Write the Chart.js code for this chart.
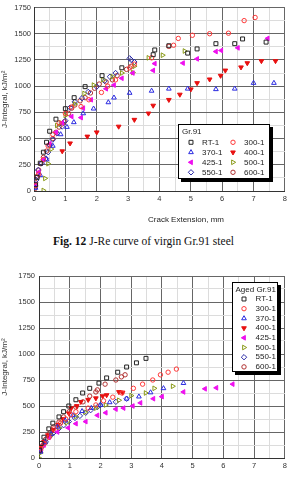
<!DOCTYPE html>
<html>
<head>
<meta charset="utf-8">
<script src="https://cdn.jsdelivr.net/npm/chart.js@4/dist/chart.umd.min.js"></script>
<style>
  html, body { margin: 0; padding: 0; background: #fff; width: 290px; height: 477px; overflow: hidden; }
  #virgin { position: absolute; left: 0; top: 0; }
  #aged { position: absolute; left: 0; top: 262px; }
  .caption { position: absolute; top: 235px; left: 0; width: 287px; text-align: center;
    font-family: "Liberation Serif", "Times New Roman", serif; font-size: 11.5px; color: #111; }
</style>
</head>
<body>
<canvas id="virgin" width="290" height="230"></canvas>
<div class="caption"><b>Fig. 12</b> J-Re curve of virgin Gr.91 steel</div>
<canvas id="aged" width="290" height="225"></canvas>
<script>
// ---- series (crack extension mm, J kJ/m2) ----
const seriesNames = ["RT-1", "300-1", "370-1", "400-1", "425-1", "500-1", "550-1", "600-1"];
const xTicks = [0, 1, 2, 3, 4, 5, 6, 7, 8];
const yTicks = [0, 250, 500, 750, 1000, 1250, 1500, 1750];

// virgin Gr.91
const vRT1 = [[0.05, 60], [0.1, 130], [0.2, 265], [0.3, 370], [0.4, 465], [0.5, 570], [0.7, 685], [1.0, 785], [1.28, 890], [1.63, 995], [2.17, 1100], [2.8, 1175], [3.8, 1300], [3.85, 1345], [4.3, 1385], [4.9, 1315], [5.2, 1355], [5.8, 1405], [6.4, 1405], [6.65, 1450], [7.4, 1420]];
const v300 = [[0.05, 50], [0.15, 160], [0.3, 300], [0.45, 430], [0.6, 540], [0.8, 650], [1.0, 740], [1.2, 800], [1.5, 805], [1.75, 870], [2.15, 940], [2.35, 1000], [2.6, 1060], [3.05, 1175], [3.2, 1210], [3.75, 1270], [4.3, 1380], [4.45, 1390], [4.6, 1455], [5.05, 1485], [5.6, 1500], [6.2, 1505], [6.7, 1625], [7.05, 1655]];
const v370 = [[0.05, 30], [0.2, 150], [0.4, 300], [0.6, 430], [0.85, 540], [1.05, 610], [1.27, 655], [1.57, 740], [1.9, 785], [2.37, 845], [2.55, 890], [3.05, 935], [3.75, 955], [4.3, 975], [4.9, 975], [5.8, 970], [6.4, 975], [7.0, 1030], [7.65, 1030]];
const v400 = [[0.9, 380], [1.15, 455], [1.7, 520], [2.0, 560], [2.7, 615], [3.2, 680], [3.65, 740], [3.8, 815], [4.3, 870], [4.65, 920], [5.0, 970], [5.2, 1030], [5.6, 1065], [5.95, 1100], [6.1, 1150], [6.6, 1180], [6.8, 1220], [7.25, 1240], [7.7, 1240]];
const v425 = [[0.05, 60], [0.15, 180], [0.3, 300], [0.5, 450], [0.7, 560], [0.9, 650], [1.2, 710], [1.5, 700], [1.57, 790], [1.82, 870], [2.3, 975], [2.55, 1010], [2.8, 1075], [3.15, 1125], [3.8, 1150], [3.85, 1215], [4.75, 1220], [5.2, 1260], [5.8, 1330], [5.97, 1340], [6.5, 1365], [7.45, 1455]];
const v500 = [[0.3, 5], [0.35, 120], [0.45, 260], [0.55, 400], [0.73, 625], [0.85, 650], [1.0, 720], [1.3, 830], [1.6, 930], [1.9, 1010], [2.2, 1060], [2.5, 1090], [2.8, 1125], [3.15, 1130], [3.2, 1190], [3.65, 1270], [4.1, 1295], [4.8, 1335]];
const v550 = [[0.03, 40], [0.07, 105], [0.13, 200], [0.25, 265], [0.38, 310], [0.45, 370], [0.5, 435], [0.6, 490], [0.73, 550], [0.9, 615], [1.0, 670], [1.15, 795], [1.3, 850], [1.53, 885], [1.73, 945], [2.0, 995], [2.25, 1050], [2.42, 1090], [2.6, 1125], [3.05, 1265], [3.1, 1250], [3.2, 1230]];
const v600 = [[0.02, 20], [0.05, 80], [0.1, 140], [0.15, 200], [0.22, 260], [0.3, 320], [0.4, 380], [0.5, 440], [0.6, 500], [0.7, 560], [0.8, 610], [0.9, 640], [0.97, 660], [1.1, 740], [1.2, 790], [1.3, 820], [1.47, 860], [1.63, 890], [1.8, 935], [1.93, 980], [2.08, 1020], [2.3, 1040], [2.5, 1060], [2.65, 1100], [2.95, 1160], [3.1, 1190]];

// aged Gr.91
const aRT1 = [[0.02, 75], [0.07, 140], [0.16, 200], [0.32, 280], [0.45, 335], [0.65, 395], [0.8, 445], [0.97, 500], [1.2, 560], [1.42, 625], [1.65, 670], [1.95, 720], [2.2, 770], [2.56, 825], [2.85, 875], [3.17, 915], [3.48, 958]];
const a300 = [[0.07, 95], [0.17, 140], [0.33, 200], [0.48, 280], [0.7, 335], [0.87, 375], [1.03, 415], [1.2, 445], [1.6, 480], [1.85, 510], [2.1, 550], [2.4, 585], [2.7, 625], [3.07, 670], [3.37, 710], [3.7, 750], [3.95, 800], [4.2, 825], [4.47, 855]];
const a370 = [[0.05, 60], [0.2, 150], [0.4, 230], [0.6, 300], [0.85, 360], [1.1, 410], [1.4, 450], [1.7, 480], [2.0, 510], [2.3, 535], [2.85, 570], [3.25, 590], [3.63, 630], [4.05, 670], [4.7, 720]];
const a400 = [[0.06, 110], [0.16, 155], [0.29, 220], [0.45, 270], [0.62, 320], [0.78, 375], [0.97, 430], [1.05, 480], [1.23, 500], [1.36, 540], [1.6, 560], [1.85, 575], [2.07, 595], [2.2, 605], [2.6, 635], [2.72, 630]];
const a425 = [[0.06, 75], [0.16, 125], [0.32, 200], [0.6, 250], [0.95, 290], [1.2, 330], [1.52, 350], [1.9, 410], [2.17, 435], [2.5, 470], [2.75, 480], [3.05, 500], [3.3, 530], [3.72, 570], [4.0, 590], [4.7, 635], [5.4, 665], [5.77, 675], [6.3, 710]];
const a500 = [[0.0, 0], [0.05, 50], [0.2, 140], [0.4, 220], [0.65, 290], [0.9, 340], [1.2, 400], [1.5, 440], [1.85, 480], [2.17, 510], [2.6, 555], [3.0, 600], [3.47, 625], [3.75, 670], [4.35, 690]];
const a550 = [[0.02, 60], [0.1, 110], [0.22, 155], [0.35, 205], [0.48, 245], [0.65, 285], [0.8, 315], [0.97, 350], [1.17, 385], [1.33, 405], [1.52, 435], [1.68, 460], [1.9, 490], [2.0, 510], [2.5, 540], [2.85, 570]];
const a600 = [[0.05, 75], [0.13, 125], [0.22, 180], [0.35, 240], [0.48, 300], [0.65, 345], [0.8, 395], [0.98, 445], [1.2, 490], [1.43, 540], [1.65, 595], [1.85, 635], [1.9, 655], [2.15, 710], [2.5, 750], [2.68, 780], [2.8, 800]];

// ---- marker styles per series ----
const markerStyles = [
  { pointStyle: "rect", rotation: 0, color: "#222222", fill: false, r: 2.8 },
  { pointStyle: "circle", rotation: 0, color: "#ff3838", fill: false, r: 2.2 },
  { pointStyle: "triangle", rotation: 0, color: "#2a2ae0", fill: false, r: 2.7 },
  { pointStyle: "triangle", rotation: 180, color: "#e81010", fill: true, r: 2.7 },
  { pointStyle: "triangle", rotation: -90, color: "#ee10ee", fill: true, r: 2.7 },
  { pointStyle: "triangle", rotation: 90, color: "#8a9a18", fill: false, r: 2.7 },
  { pointStyle: "rectRot", rotation: 0, color: "#2c2ca8", fill: false, r: 2.7 },
  { pointStyle: "circle", rotation: 0, color: "#b03030", fill: false, r: 2.2 }
];

const FONT = "'Liberation Sans', Arial, sans-serif";

function makeDatasets(all) {
  return all.map((pts, i) => {
    const m = markerStyles[i];
    return {
      label: seriesNames[i],
      data: pts.map((p) => ({ x: p[0], y: p[1] })),
      pointStyle: m.pointStyle,
      rotation: m.rotation,
      pointRadius: m.r,
      pointBorderWidth: 1,
      borderColor: m.color,
      backgroundColor: m.fill ? m.color : "rgba(0,0,0,0)",
      showLine: false
    };
  });
}

function drawMarker(ctx, m, x, y) {
  ctx.save();
  ctx.translate(x, y);
  ctx.rotate(m.rotation * Math.PI / 180);
  ctx.strokeStyle = m.color;
  ctx.fillStyle = m.fill ? m.color : "rgba(0,0,0,0)";
  ctx.lineWidth = 1;
  const r = m.r;
  ctx.beginPath();
  if (m.pointStyle === "circle") {
    ctx.arc(0, 0, r, 0, Math.PI * 2);
  } else if (m.pointStyle === "rect") {
    const s = r * Math.SQRT1_2;
    ctx.rect(-s, -s, 2 * s, 2 * s);
  } else if (m.pointStyle === "rectRot") {
    ctx.moveTo(0, -r); ctx.lineTo(r, 0); ctx.lineTo(0, r); ctx.lineTo(-r, 0); ctx.closePath();
  } else {
    ctx.moveTo(0, -r); ctx.lineTo(r * 0.866, r * 0.5); ctx.lineTo(-r * 0.866, r * 0.5); ctx.closePath();
  }
  if (m.fill) ctx.fill();
  ctx.stroke();
  ctx.restore();
}

// boxed legend with drop shadow, plus the x-axis title
function boxLegend(cfg) {
  return {
    id: "boxLegend",
    afterDatasetsDraw(chart) {
      const ctx = chart.ctx;
      const b = cfg.box;
      ctx.save();
      ctx.fillStyle = "#000";
      ctx.fillRect(b.x + 3, b.y + 3, b.w, b.h);
      ctx.fillStyle = "#fff";
      ctx.fillRect(b.x, b.y, b.w, b.h);
      ctx.strokeStyle = "#000";
      ctx.lineWidth = 1;
      ctx.strokeRect(b.x + 0.5, b.y + 0.5, b.w - 1, b.h - 1);
      ctx.fillStyle = "#222";
      ctx.font = "8px " + FONT;
      ctx.textBaseline = "middle";
      ctx.textAlign = "left";
      ctx.fillText(cfg.title, cfg.titleX, cfg.titleY);
      seriesNames.forEach((name, i) => {
        const pos = cfg.pos(i);
        drawMarker(ctx, markerStyles[i], pos.mx, pos.y);
        ctx.fillStyle = "#222";
        ctx.fillText(name, pos.tx, pos.y);
      });
      ctx.fillText(cfg.xTitle, cfg.xTitleX, cfg.xTitleY);
      ctx.restore();
    }
  };
}

function gridColor(step) {
  return (c) => {
    const v = c.tick ? c.tick.value : 0;
    return Math.abs(v / step - Math.round(v / step)) < 1e-6 ? "#666666" : "#dcdcdc";
  };
}

function makeChart(id, data, opts) {
  return new Chart(document.getElementById(id), {
    type: "scatter",
    data: { datasets: makeDatasets(data) },
    options: {
      responsive: false,
      animation: false,
      devicePixelRatio: 1,
      layout: { padding: opts.padding },
      plugins: { legend: { display: false }, tooltip: { enabled: false } },
      scales: {
        x: {
          min: 0, max: 8,
          afterFit: (s) => { s.height = opts.xHeight; },
          ticks: {
            stepSize: 0.5, autoSkip: false, maxRotation: 0, padding: 3,
            color: "#333", font: { size: 7.5, family: FONT },
            callback: (v) => (xTicks.includes(v) ? String(v) : "")
          },
          grid: { color: gridColor(1), drawTicks: false },
          border: { color: "#333" }
        },
        y: {
          min: 0, max: 1750,
          afterFit: (s) => { s.width = opts.yWidth; },
          ticks: {
            stepSize: 125, autoSkip: false, padding: opts.yPad,
            color: "#333", font: { size: 7.5, family: FONT },
            callback: (v) => (yTicks.includes(v) ? String(v) : "")
          },
          grid: { color: gridColor(250), drawTicks: false },
          border: { color: "#333" },
          title: {
            display: true, text: "J-Integral, kJ/m\u00b2", color: "#333",
            font: { size: 8, family: FONT }, padding: { top: 0, bottom: 0 }
          }
        }
      }
    },
    plugins: [boxLegend(opts.legend)]
  });
}

makeChart("virgin", [vRT1, v300, v370, v400, v425, v500, v550, v600], {
  padding: { left: 0, right: 5, top: 6, bottom: 0 },
  xHeight: 39, yWidth: 34, yPad: 3,
  legend: {
    box: { x: 178, y: 124, w: 92, h: 55 },
    title: "Gr.91", titleX: 182, titleY: 132,
    pos: (i) => ({
      mx: i % 2 === 0 ? 191 : 233,
      tx: i % 2 === 0 ? 202 : 244,
      y: 142.3 + Math.floor(i / 2) * 10
    }),
    xTitle: "Crack Extension, mm", xTitleX: 148, xTitleY: 220
  }
});

makeChart("aged", [aRT1, a300, a370, a400, a425, a500, a550, a600], {
  padding: { left: 0, right: 4, top: 14, bottom: 0 },
  xHeight: 29, yWidth: 39, yPad: 4,
  legend: {
    box: { x: 232, y: 20, w: 46, h: 90 },
    title: "Aged Gr.91", titleX: 235.5, titleY: 27.3,
    pos: (i) => ({ mx: 244, tx: 255.5, y: 37 + i * 9.7 }),
    xTitle: "Crack Extension, mm", xTitleX: 123, xTitleY: 220
  }
});
</script>
</body>
</html>
